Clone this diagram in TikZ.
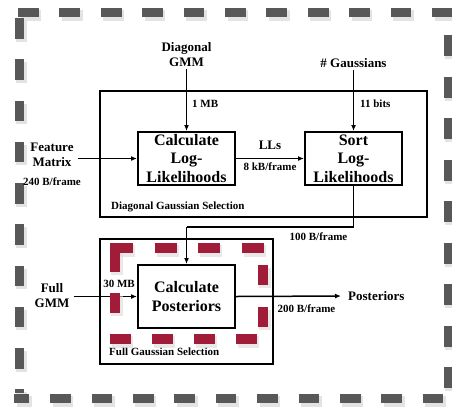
\documentclass[tikz,border=0pt]{standalone}
\usepackage{fontspec}
\setmainfont{Liberation Serif}
\usetikzlibrary{arrows.meta}
\definecolor{bordergray}{RGB}{88,88,88}
\definecolor{selred}{RGB}{160,28,56}
\newcommand\myborder[1]{%
  \draw[#1,dash pattern=on 20.7pt off 20.7pt] (18,12) -- (452,12);
  \draw[#1,dash pattern=on 20.7pt off 20.7pt,dash phase=5.3pt] (14,398) -- (452,398);
  \draw[#1,dash pattern=on 20.6pt off 20.65pt] (19,18) -- (19,393);
  \draw[#1,dash pattern=on 21pt off 20.5pt] (448,35) -- (448,393);
}
\newcommand\myredsel[1]{%
  \draw[#1,dash pattern=on 22pt off 21.5pt] (111,248) -- (268,248);
  \draw[#1,dash pattern=on 21pt off 21pt] (110,339) -- (268,339);
  \draw[#1,dash pattern=on 29pt off 21pt on 20pt off 60pt] (115,243) -- (115,339);
  \draw[#1,dash pattern=on 20pt off 22pt] (263,265) -- (263,339);
}
\begin{document}
\begin{tikzpicture}[x=1pt,y=-1pt,
  proc/.style={draw,line width=2pt,minimum width=97pt,align=center,inner sep=0pt,
    font=\fontsize{16}{18.5}\selectfont\bfseries},
  grp/.style={draw,line width=2pt,inner sep=0pt},
  lbl/.style={align=center,font=\fontsize{13}{15}\selectfont\bfseries,inner sep=2pt},
  small/.style={font=\fontsize{11}{13}\selectfont\bfseries,inner sep=1pt},
  flow/.style={line width=1.5pt,-{Latex[length=6pt,width=5pt]}},
  gborder/.style={line width=9pt,bordergray},
  gshadow/.style={line width=11pt,black!18,opacity=0.6},
  rborder/.style={line width=10pt,selred},
  rshadow/.style={line width=12pt,black!15,opacity=0.6}
]
\useasboundingbox (0,0) rectangle (452,408);
\fill[white] (0,0) rectangle (452,408);

% outer dashed border with soft shadow
\begin{scope}[shift={(2.5,3)}]
  \myborder{gshadow}
\end{scope}
\myborder{gborder}

% group boxes
\node[grp,minimum width=327pt,minimum height=126pt] (dgs) at (263.5,154) {};
\node[grp,minimum width=173pt,minimum height=125pt] (fgs) at (186.5,301.5) {};

% process boxes
\node[proc,minimum height=53pt] (cll) at (186.5,158.5) {Calculate\\Log-\\Likelihoods};
\node[proc,minimum height=53pt] (sll) at (353.5,158.5) {Sort\\Log-\\Likelihoods};
\node[proc,minimum height=63pt] (cp) at (186.5,296.5) {Calculate\\Posteriors};

% inputs / outputs
\node[lbl] (dgmm) at (186.5,54.5) {Diagonal\\GMM};
\node[lbl] (ngauss) at (353.5,63) {\# Gaussians};
\node[lbl] (feat) at (52,154.5) {Feature\\Matrix};
\node[lbl] (fgmm) at (52,296) {Full\\GMM};
\node[lbl,anchor=west,inner sep=3pt] (post) at (345,296) {Posteriors};

% group titles
\node[small,anchor=west] (dgst) at (110,207) {Diagonal Gaussian Selection};
\node[small,anchor=west] (fgst) at (108,352) {Full Gaussian Selection};

% connectors
\coordinate (c1) at (353.5,227);
\coordinate (c2) at (186.5,227);
\draw[flow] (dgmm.south) -- (cll.north);
\draw[flow] (ngauss.south) -- (sll.north);
\draw[flow] (feat.east |- cll.west) ++(2,0) coordinate (fs) (fs) -- (cll.west);
\draw[flow] (cll.east) -- (sll.west);
\draw[line width=1.5pt] (sll.south) -- (c1) -- (c2);
\draw[flow] (c2) -- (cp.north);
\draw[flow] (fgmm.east |- cp.west) ++(2,0) coordinate (gs) (gs) -- (cp.west);
\draw[flow,shorten >=4pt] (cp.east) -- (post.west);

% data-rate labels
\node[small,anchor=west] (l1) at (191,104) {1 MB};
\node[small,anchor=west] (l2) at (359,104) {11 bits};
\node[lbl] (llsl) at (270,145) {LLs};
\node[small] (l3) at (270,167) {8 kB/frame};
\node[small] (l4) at (52,182) {240 B/frame};
\node[small] (l5) at (318.5,237) {100 B/frame};
\node[small] (l6) at (119,284) {30 MB};
\node[small] (l7) at (306.5,309) {200 B/frame};

% red dashed selection with soft shadow
\begin{scope}[shift={(2,3)}]
  \myredsel{rshadow}
\end{scope}
\myredsel{rborder}
\end{tikzpicture}
\end{document}
